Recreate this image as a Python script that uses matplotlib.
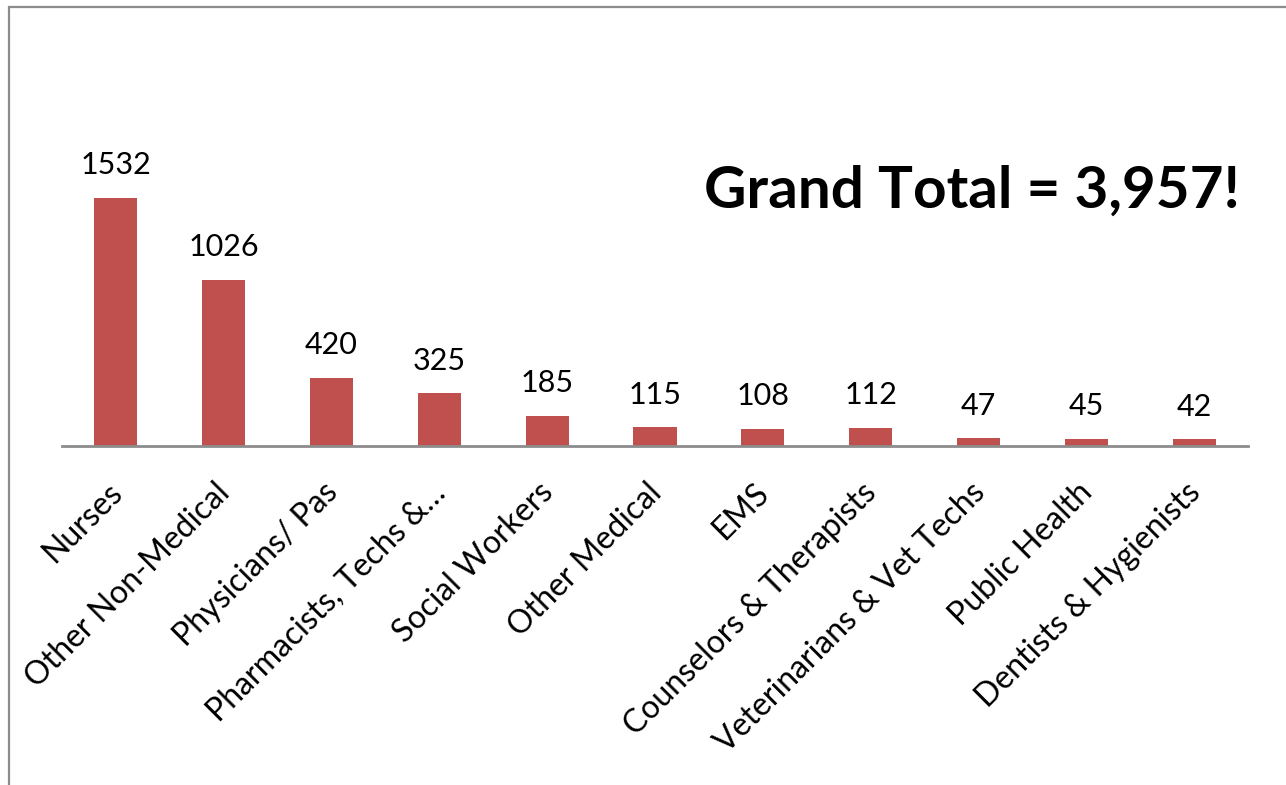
import matplotlib.pyplot as plt
from matplotlib.patches import Rectangle
from matplotlib.transforms import ScaledTranslation

# data
categories = ['Nurses', 'Other Non-Medical', 'Physicians/ Pas', 'Pharmacists, Techs &\u2026',
              'Social Workers', 'Other Medical', 'EMS', 'Counselors & Therapists',
              'Veterinarians & Vet Techs', 'Public Health', 'Dentists & Hygienists']
counts = [1532, 1026, 420, 325, 185, 115, 108, 112, 47, 45, 42]
headline = 'Grand Total = 3,957!'

W, H = 1286, 785
fig = plt.figure(figsize=(W / 100, H / 100), dpi=100)
plt.rcParams['font.family'] = ['Lato', 'DejaVu Sans']

# outer frame (only left and top edges are visible in the reference)
fig.patches.append(Rectangle((9 / W, -0.1), 1.2, 1 - 7 / H + 0.1, transform=fig.transFigure,
                             fill=False, edgecolor='#8c8c8c', linewidth=1.6))

ax = fig.add_axes([62 / W, 1 - 446 / H, (1248 - 62) / W, 291.4 / H])
x = range(len(categories))
bars = ax.bar(x, counts, width=0.4, color='#C0504D')
ax.set_xlim(-0.5, len(categories) - 0.5)
ax.set_ylim(0, 1800)

for b, v in zip(bars, counts):
    ax.annotate(str(v), (b.get_x() + b.get_width() / 2, v), xytext=(0, 17),
                textcoords='offset points', ha='center', va='baseline', fontsize=22, clip_on=False)

for s in ['top', 'right', 'left']:
    ax.spines[s].set_visible(False)
ax.spines['bottom'].set_color('#8c8c8c')
ax.spines['bottom'].set_linewidth(2)
ax.set_yticks([])
ax.set_xticks(list(x))
ax.set_xticklabels(categories, rotation=45, ha='right', rotation_mode='anchor', fontsize=23)
ax.tick_params(axis='x', length=0, pad=14)
# nudge labels down-left a little, like the reference
shift = ScaledTranslation(-9 / 100, -12 / 100, fig.dpi_scale_trans)
for lbl in ax.get_xticklabels():
    lbl.set_transform(lbl.get_transform() + shift)

fig.text(1240 / W, 1 - 208 / H, headline, ha='right', va='baseline', fontsize=42, fontweight='bold')

fig.savefig('out.png', dpi=100)
